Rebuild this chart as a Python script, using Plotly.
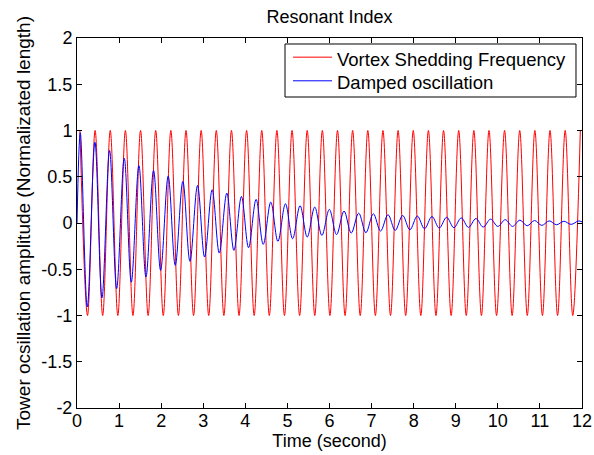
import plotly.graph_objects as go

# ---- data ----
red_peak_t = [0.07, 0.43, 0.79, 1.15, 1.51, 1.87, 2.23, 2.59, 2.95, 3.31, 3.67, 4.03,
              4.39, 4.75, 5.11, 5.47, 5.83, 6.19, 6.55, 6.91, 7.27, 7.63, 7.99, 8.35,
              8.71, 9.07, 9.43, 9.79, 10.16, 10.52, 10.88, 11.24, 11.60, 11.96]
red_trough_t = [0.25, 0.61, 0.97, 1.33, 1.69, 2.05, 2.41, 2.77, 3.13, 3.49, 3.85, 4.21,
                4.57, 4.93, 5.29, 5.65, 6.01, 6.37, 6.73, 7.09, 7.45, 7.81, 8.17, 8.53,
                8.89, 9.25, 9.61, 9.97, 10.34, 10.70, 11.06, 11.42, 11.78]
red_peak_v = 1.0
red_trough_v = -1.0

blue_start = (0.0, 0.0)
blue_peak_t = [0.078, 0.426, 0.774, 1.123, 1.471, 1.819, 2.167, 2.515, 2.864, 3.212,
               3.560, 3.908, 4.256, 4.605, 4.953, 5.301, 5.649, 5.997, 6.346, 6.694,
               7.042, 7.390, 7.738, 8.087, 8.435, 8.783, 9.131, 9.479, 9.828, 10.176,
               10.524, 10.872, 11.220, 11.569, 11.917]
blue_peak_v = [0.976, 0.874, 0.784, 0.70, 0.62, 0.568, 0.507, 0.45, 0.406, 0.36,
               0.323, 0.287, 0.255, 0.226, 0.208, 0.187, 0.172, 0.147, 0.129, 0.107,
               0.100, 0.090, 0.082, 0.075, 0.070, 0.062, 0.055, 0.048, 0.042, 0.036,
               0.031, 0.027, 0.023, 0.019, 0.022]
blue_trough_t = [0.245, 0.593, 0.942, 1.290, 1.639, 1.987, 2.335, 2.684, 3.032, 3.381,
                 3.729, 4.077, 4.426, 4.774, 5.123, 5.471, 5.819, 6.168, 6.516, 6.865,
                 7.213, 7.561, 7.910, 8.258, 8.607, 8.955, 9.303, 9.652, 10.000, 10.349,
                 10.697, 11.045, 11.394, 11.742]
blue_trough_v = [-0.908, -0.81, -0.71, -0.64, -0.584, -0.512, -0.458, -0.415, -0.368, -0.325,
                 -0.296, -0.267, -0.231, -0.199, -0.17, -0.152, -0.134, -0.126, -0.109, -0.105,
                 -0.087, -0.08, -0.073, -0.062, -0.055, -0.051, -0.048, -0.044, -0.037, -0.037,
                 -0.03, -0.026, -0.019, -0.015]
blue_end = (12.0, 0.012)

series_names = ["Vortex Shedding Frequency", "Damped oscillation"]
series_colors = ["rgb(255,0,0)", "rgb(0,0,255)"]

x_ticks = [0, 1, 2, 3, 4, 5, 6, 7, 8, 9, 10, 11, 12]
y_ticks = [-2, -1.5, -1, -0.5, 0, 0.5, 1, 1.5, 2]
y_tick_text = ["-2", "-1.5", "-1", "-0.5", "0", "0.5", "1", "1.5", "2"]

# ---- build series ----
red_pts = sorted([(t, red_peak_v) for t in red_peak_t] + [(t, red_trough_v) for t in red_trough_t])
red_x = [p[0] for p in red_pts]
red_y = [p[1] for p in red_pts]

blue_pts = sorted([blue_start] + list(zip(blue_peak_t, blue_peak_v))
                  + list(zip(blue_trough_t, blue_trough_v)) + [blue_end])
blue_x = [p[0] for p in blue_pts]
blue_y = [p[1] for p in blue_pts]

FONT = "Liberation Sans, Arial, Helvetica, sans-serif"
FS = 18

fig = go.Figure()
fig.add_trace(go.Scatter(x=red_x, y=red_y, mode="lines", name=series_names[0],
                         line=dict(color=series_colors[0], width=1, shape="spline", smoothing=1.0)))
fig.add_trace(go.Scatter(x=blue_x, y=blue_y, mode="lines", name=series_names[1],
                         line=dict(color=series_colors[1], width=1, shape="spline", smoothing=1.0)))

axis_common = dict(showgrid=False, zeroline=False, showline=True, linecolor="black",
                   linewidth=1, mirror="ticks", ticks="inside", ticklen=5,
                   tickcolor="black", automargin=False,
                   tickfont=dict(family=FONT, size=FS, color="black"))

# ---- MATLAB-style legend box (paper coordinates of the plot area) ----
leg_box = dict(x0=0.4119, x1=0.9881, y0=0.8405, y1=0.9838)
leg_rows_y = [0.9432, 0.8793]
leg_line_x = (0.4277, 0.5050)
leg_text_x = 0.5100

shapes = [dict(type="rect", xref="paper", yref="paper", layer="above",
               line=dict(color="black", width=1), fillcolor="white", **leg_box)]
annotations = []
for name, color, ry in zip(series_names, series_colors, leg_rows_y):
    shapes.append(dict(type="line", xref="paper", yref="paper", layer="above",
                       x0=leg_line_x[0], x1=leg_line_x[1], y0=ry + 0.005, y1=ry + 0.005,
                       line=dict(color=color, width=1)))
    annotations.append(dict(text=name, xref="paper", yref="paper", x=leg_text_x, y=ry,
                            xanchor="left", yanchor="middle", showarrow=False,
                            font=dict(family=FONT, size=18.5, color="black")))

fig.update_layout(
    width=594, height=455,
    margin=dict(l=77, r=12, t=38, b=47, pad=0),
    paper_bgcolor="white", plot_bgcolor="white",
    font=dict(family=FONT, size=FS, color="black"),
    title=dict(text="Resonant Index", x=0.5547, xanchor="center", y=0.963, yanchor="middle",
               automargin=False, font=dict(family=FONT, size=FS, color="black")),
    xaxis=dict(range=[0, 12], tickvals=x_ticks, ticklabelstandoff=-4,
               title=dict(text="Time (second)", standoff=3,
                          font=dict(family=FONT, size=FS)), **axis_common),
    yaxis=dict(range=[-2, 2], tickvals=y_ticks, ticktext=y_tick_text,
               title=dict(text="Tower ocsillation amplitude (Normalizated length)", standoff=5,
                          font=dict(family=FONT, size=19)), **axis_common),
    shapes=shapes,
    annotations=annotations,
    showlegend=False,
)

fig.write_html("out.html", config={"displayModeBar": False},
               post_script="document.body.style.margin='0';")
